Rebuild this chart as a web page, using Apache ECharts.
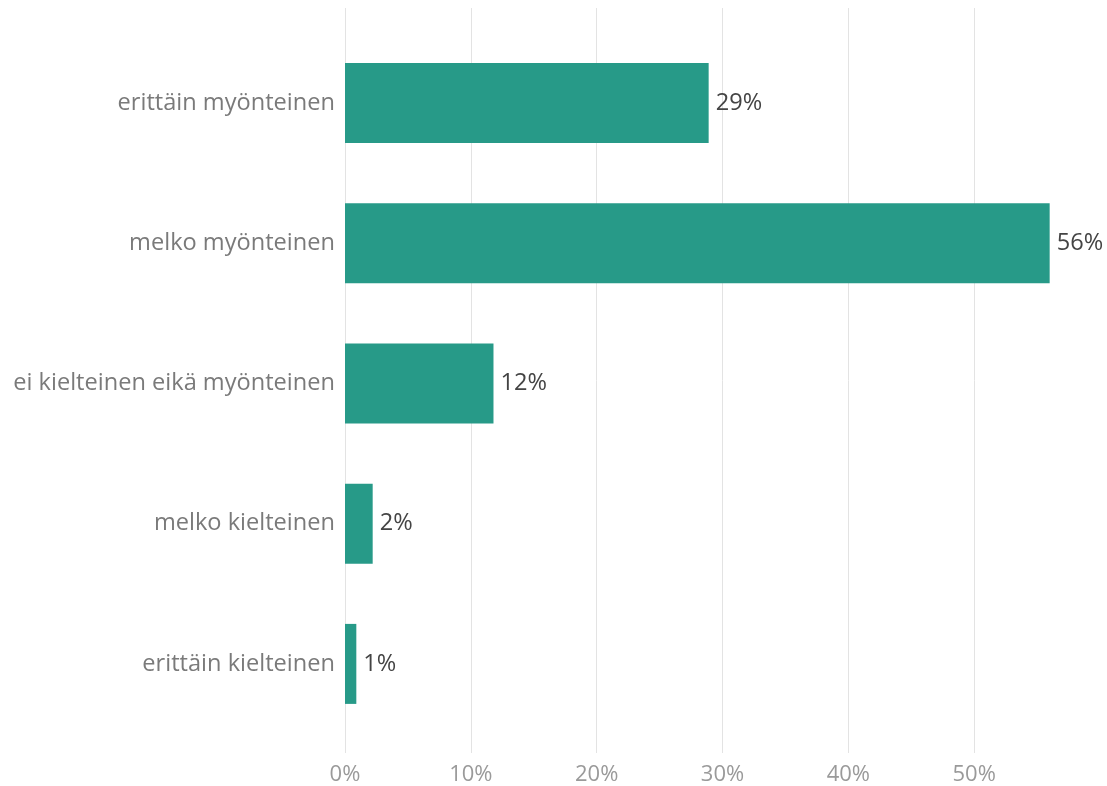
<!DOCTYPE html>
<html>
<head>
<meta charset="utf-8">
<script src="https://cdn.jsdelivr.net/npm/echarts@6/dist/echarts.min.js"></script>
<style>
html,body{margin:0;padding:0;background:#fff;}
#c{width:1107px;height:786px;}
</style>
</head>
<body>
<div id="c"></div>
<script>
const categories = ["erittäin myönteinen", "melko myönteinen", "ei kielteinen eikä myönteinen", "melko kielteinen", "erittäin kielteinen"];
const values = [28.9, 56.0, 11.8, 2.2, 0.9];
const tickValues = [0, 10, 20, 30, 40, 50];

const chart = echarts.init(document.getElementById('c'));
const FONT = '"Open Sans", sans-serif';
chart.setOption({
  animation: false,
  grid: [
    {left: 345, right: 7, top: 8, bottom: 29, containLabel: false},
    {left: 345, right: 7, top: 33, bottom: 52, containLabel: false}
  ],
  xAxis: [
    {
      gridIndex: 0, type: 'value', min: 0, max: 60, interval: 10,
      axisLine: {show: false}, axisTick: {show: false},
      splitLine: {show: true, showMaxLine: false, lineStyle: {color: '#e3e3e3', width: 1}},
      axisLabel: {
        showMaxLabel: false, color: '#9a9a9a', fontFamily: FONT, fontSize: 22, margin: 11,
        formatter: v => (tickValues.indexOf(v) >= 0 ? v + '%' : '')
      }
    },
    {
      gridIndex: 1, type: 'value', min: 0, max: 60, interval: 10, show: false,
      splitLine: {show: false}
    }
  ],
  yAxis: [
    {gridIndex: 0, type: 'value', show: false, splitLine: {show: false}},
    {
      gridIndex: 1, type: 'category', data: categories, inverse: true,
      axisLine: {show: false}, axisTick: {show: false},
      axisLabel: {color: '#7a7a7a', fontFamily: FONT, fontSize: 23.6, margin: 10}
    }
  ],
  series: [{
    type: 'bar', xAxisIndex: 1, yAxisIndex: 1, data: values,
    barWidth: 80,
    itemStyle: {color: '#279a88'},
    label: {
      show: true, position: 'right', distance: 7,
      color: '#444', fontFamily: FONT, fontSize: 23.6,
      formatter: p => Math.round(p.value) + '%'
    }
  }]
});
</script>
</body>
</html>
